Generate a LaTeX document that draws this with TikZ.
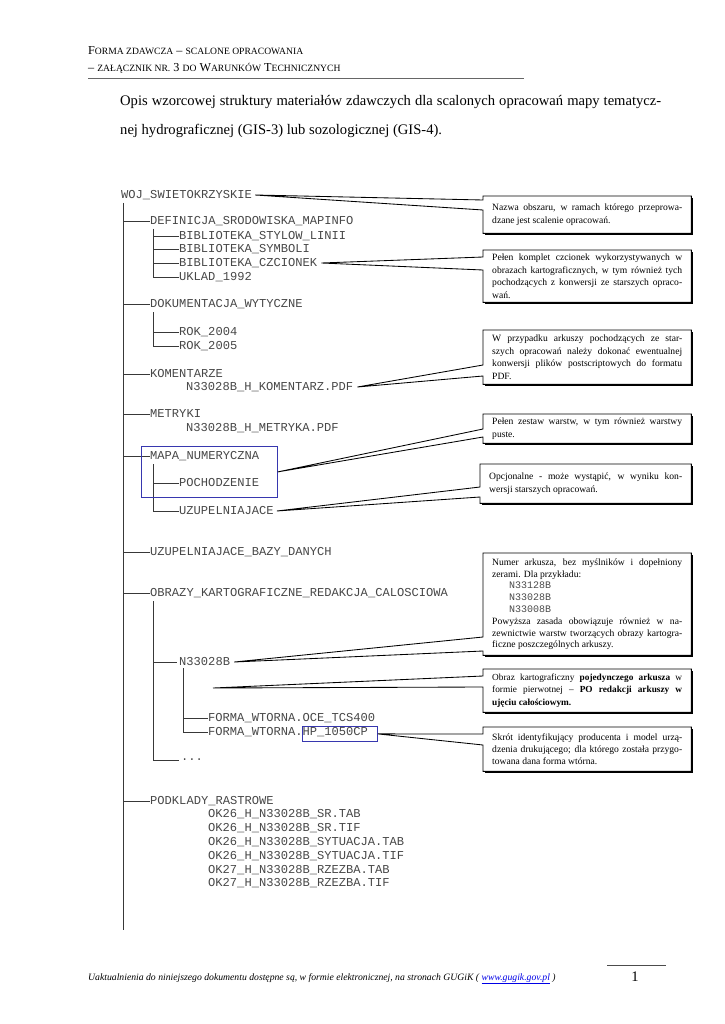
\documentclass[tikz,border=0pt]{standalone}
\usepackage{fontspec}
\setmainfont{Liberation Serif}
\setmonofont{Liberation Mono}
\usetikzlibrary{calc,shadows}
\definecolor{treeline}{gray}{0.22}
\definecolor{boxblue}{RGB}{55,55,175}
\definecolor{linkblue}{RGB}{0,0,230}
\newcommand\smc[1]{{\fontsize{9.6pt}{11pt}\selectfont #1}}
\newcommand\boxmono[1]{\hspace*{17pt}{\fontsize{10pt}{11pt}\ttfamily\color{black!70}#1}}
\newcommand\cbset{\hyphenpenalty=10000 \tolerance=9999 \hfuzz=20pt\relax}
\newcommand\mkcallout[4]{\draw[wedge] ($(#1.north west)+(0,#3)$) -- (#4) -- ($(#1.north west)+(0,#2)$) -- (#1.north west) -- (#1.north east) -- (#1.south east) -- (#1.south west) -- cycle;}
\begin{document}
\begin{tikzpicture}[x=1pt,y=-1pt,
  tt/.style={anchor=west, inner sep=0pt, text height=7pt, text depth=0pt, font=\fontsize{12.1pt}{13pt}\ttfamily, text=black!72},
  tl/.style={draw=treeline, line width=0.9pt},
  cbox/.style={anchor=north west, fill=white, inner xsep=9pt, inner ysep=2pt, text width=190pt, align=justify,
    font=\fontsize{9.6pt}{12.4pt}\selectfont,
    drop shadow={shadow xshift=1.6pt, shadow yshift=-1.6pt, opacity=1, fill=black}},
  wedge/.style={draw=black, line width=0.85pt, line join=miter},
  bluebox/.style={draw=boxblue, line width=0.8pt, inner sep=0pt, anchor=north west}]
\useasboundingbox (0,0) rectangle (724,1024);
\fill[white] (0,0) rectangle (724,1024);

% header
\node[anchor=base west, inner sep=0pt, font=\fontsize{12.2pt}{14pt}\selectfont] (h1) at (88,55) {F\smc{ORMA ZDAWCZA} – \smc{SCALONE OPRACOWANIA}};
\node[anchor=base west, inner sep=0pt, font=\fontsize{12.2pt}{14pt}\selectfont] (h2) at (88,72) {– \smc{ZAŁĄCZNIK NR.} 3 \smc{DO} W\smc{ARUNKÓW} T\smc{ECHNICZNYCH}};
\coordinate (hrA) at (88,78);
\coordinate (hrB) at (524,78);
\draw[black!60, line width=0.8pt] (hrA) -- (hrB);

% title
\node[anchor=base west, inner sep=0pt, font=\fontsize{14.6pt}{29pt}\selectfont] (title) at (120,106)
 {\parbox[t]{541pt}{\hyphenpenalty=10000 Opis wzorcowej struktury materiałów zdawczych dla scalonych opracowań mapy tematycz-\linebreak nej hydrograficznej (GIS-3) lub sozologicznej (GIS-4).}};

% tree
\node[tt] (root) at (121,195) {WOJ\_SWIETOKRZYSKIE};
\coordinate (trunkA) at (123,203);
\coordinate (trunkB) at (123,930);
\draw[tl] (trunkA) -- (trunkB);

\node[tt] (def) at (150,221) {DEFINICJA\_SRODOWISKA\_MAPINFO};
\node[tt] (bsl) at (179,236) {BIBLIOTEKA\_STYLOW\_LINII};
\node[tt] (bsy) at (179,249) {BIBLIOTEKA\_SYMBOLI};
\node[tt] (bcz) at (179,263) {BIBLIOTEKA\_CZCIONEK};
\node[tt] (ukl) at (179,277) {UKLAD\_1992};
\node[tt] (dok) at (150,304) {DOKUMENTACJA\_WYTYCZNE};
\node[tt] (r04) at (179,332) {ROK\_2004};
\node[tt] (r05) at (179,346) {ROK\_2005};
\node[tt] (kom) at (150,374) {KOMENTARZE};
\node[tt] (komf) at (186,387) {N33028B\_H\_KOMENTARZ.PDF};
\node[tt] (met) at (150,414) {METRYKI};
\node[tt] (metf) at (186,428) {N33028B\_H\_METRYKA.PDF};
\node[tt] (map) at (150,456) {MAPA\_NUMERYCZNA};
\node[tt] (poch) at (179,483) {POCHODZENIE};
\node[tt] (uzu) at (179,511) {UZUPELNIAJACE};
\node[tt] (ubd) at (150,552) {UZUPELNIAJACE\_BAZY\_DANYCH};
\node[tt] (obr) at (150,593) {OBRAZY\_KARTOGRAFICZNE\_REDAKCJA\_CALOSCIOWA};
\node[tt] (n33) at (179,662) {N33028B};
\node[tt] (oce) at (208,718) {FORMA\_WTORNA.OCE\_TCS400};
\node[tt] (hp) at (208,732) {FORMA\_WTORNA.HP\_1050CP};
\node[tt, text height=0pt] (dots) at (181,760) {...};
\node[tt] (pod) at (150,801) {PODKLADY\_RASTROWE};
\node[tt] (f1) at (208,814) {OK26\_H\_N33028B\_SR.TAB};
\node[tt] (f2) at (208,828) {OK26\_H\_N33028B\_SR.TIF};
\node[tt] (f3) at (208,842) {OK26\_H\_N33028B\_SYTUACJA.TAB};
\node[tt] (f4) at (208,856) {OK26\_H\_N33028B\_SYTUACJA.TIF};
\node[tt] (f5) at (208,870) {OK27\_H\_N33028B\_RZEZBA.TAB};
\node[tt] (f6) at (208,883) {OK27\_H\_N33028B\_RZEZBA.TIF};

\foreach \n in {def,dok,kom,met,map,ubd,obr,pod}
  \draw[tl] (trunkA |- \n.west) -- (\n.west);

\coordinate (dv) at (153,229);
\draw[tl] (dv) -- (dv |- ukl.west);
\foreach \n in {bsl,bsy,bcz,ukl} \draw[tl] (dv |- \n.west) -- (\n.west);

\coordinate (kv) at (153,312);
\draw[tl] (kv) -- (kv |- r05.west);
\foreach \n in {r04,r05} \draw[tl] (kv |- \n.west) -- (\n.west);

\coordinate (mv) at (153,464);
\draw[tl] (mv) -- (mv |- uzu.west);
\foreach \n in {poch,uzu} \draw[tl] (mv |- \n.west) -- (\n.west);

\coordinate (ov) at (153,601);
\draw[tl] (ov) -- (ov |- dots.west);
\foreach \n in {n33,dots} \draw[tl] (ov |- \n.west) -- ([xshift=-2pt]\n.west);

\coordinate (nv) at (183,668);
\draw[tl] (nv) -- (nv |- hp.west);
\foreach \n in {oce,hp} \draw[tl] (nv |- \n.west) -- (\n.west);

% blue marks
\node[bluebox, minimum width=136pt, minimum height=51pt] (mapbox) at (141,446) {};
\node[bluebox, minimum width=75pt, minimum height=15pt] (hpbox) at (302,726) {};

% callout boxes
\node[cbox, minimum height=37pt] (b1) at (483,196) {\cbset Nazwa obszaru, w ramach którego przeprowa-\linebreak dzane jest scalenie opracowań.};
\node[cbox, minimum height=52pt] (b2) at (483,250) {\cbset Pełen komplet czcionek wykorzystywanych w\linebreak obrazach kartograficznych, w tym również tych\linebreak pochodzących z konwersji ze starszych opraco-\linebreak wań.};
\node[cbox, minimum height=54pt] (b3) at (483,330) {\cbset W przypadku arkuszy pochodzących ze star-\linebreak szych opracowań należy dokonać ewentualnej\linebreak konwersji plików postscriptowych do formatu\linebreak PDF.};
\node[cbox, minimum height=29pt] (b4) at (483,414) {\cbset Pełen zestaw warstw, w tym również warstwy\linebreak puste.};
\node[cbox, text width=193pt, minimum height=39pt] (b5) at (480,464) {\cbset Opcjonalne - może wystąpić, w wyniku kon-\linebreak wersji starszych opracowań.};
\node[cbox, minimum height=102pt, font=\fontsize{9.6pt}{11.8pt}\selectfont] (b6) at (483,553) {\cbset Numer arkusza, bez myślników i dopełniony\linebreak zerami. Dla przykładu:\\
\boxmono{N33128B}\\
\boxmono{N33028B}\\
\boxmono{N33008B}\\
Powyższa zasada obowiązuje również w na-\linebreak zewnictwie warstw tworzących obrazy kartogra-\linebreak ficzne poszczególnych arkuszy.};
\node[cbox, minimum height=43pt, font=\fontsize{9.3pt}{12.4pt}\selectfont] (b7) at (483,669) {\cbset Obraz kartograficzny \textbf{pojedynczego arkusza} w\linebreak formie pierwotnej – \textbf{PO redakcji arkuszy w}\linebreak \textbf{ujęciu całościowym.}};
\node[cbox, minimum height=44pt] (b8) at (483,727) {\cbset Skrót identyfikujący producenta i model urzą-\linebreak dzenia drukującego; dla którego została przygo-\linebreak towana dana forma wtórna.};

% wedges
\coordinate (t1) at ([xshift=3pt]root.east);
\coordinate (t2) at ([xshift=4pt]bcz.east);
\coordinate (t3) at ([xshift=4pt]komf.east);
\coordinate (t5) at ([xshift=3pt]uzu.east);
\coordinate (t6) at ([xshift=4pt]n33.east);
\coordinate (t7) at (213,688);
\mkcallout{b1}{4}{14}{t1}
\mkcallout{b2}{7}{20}{t2}
\mkcallout{b3}{35}{46}{t3}
\mkcallout{b4}{15}{23}{mapbox.east}
\mkcallout{b5}{23}{33}{t5}
\mkcallout{b6}{84}{98}{t6}
\mkcallout{b7}{7}{18}{t7}
\mkcallout{b8}{7}{18}{hpbox.east}

% footer
\node[anchor=base west, inner sep=0pt, font=\fontsize{9.7pt}{11pt}\selectfont\itshape] (foot) at (88,980)
 {Uaktualnienia do niniejszego dokumentu dostępne są, w formie elektronicznej, na stronach GUGiK ( \textcolor{linkblue}{\underline{www.gugik.gov.pl}} )};
\coordinate (frA) at (607,965);
\coordinate (frB) at (666,965);
\draw[black!70, line width=0.7pt] (frA) -- (frB);
\node[anchor=base, inner sep=0pt, font=\fontsize{14.6pt}{16pt}\selectfont] (pnum) at (635,981) {1};
\end{tikzpicture}
\end{document}
